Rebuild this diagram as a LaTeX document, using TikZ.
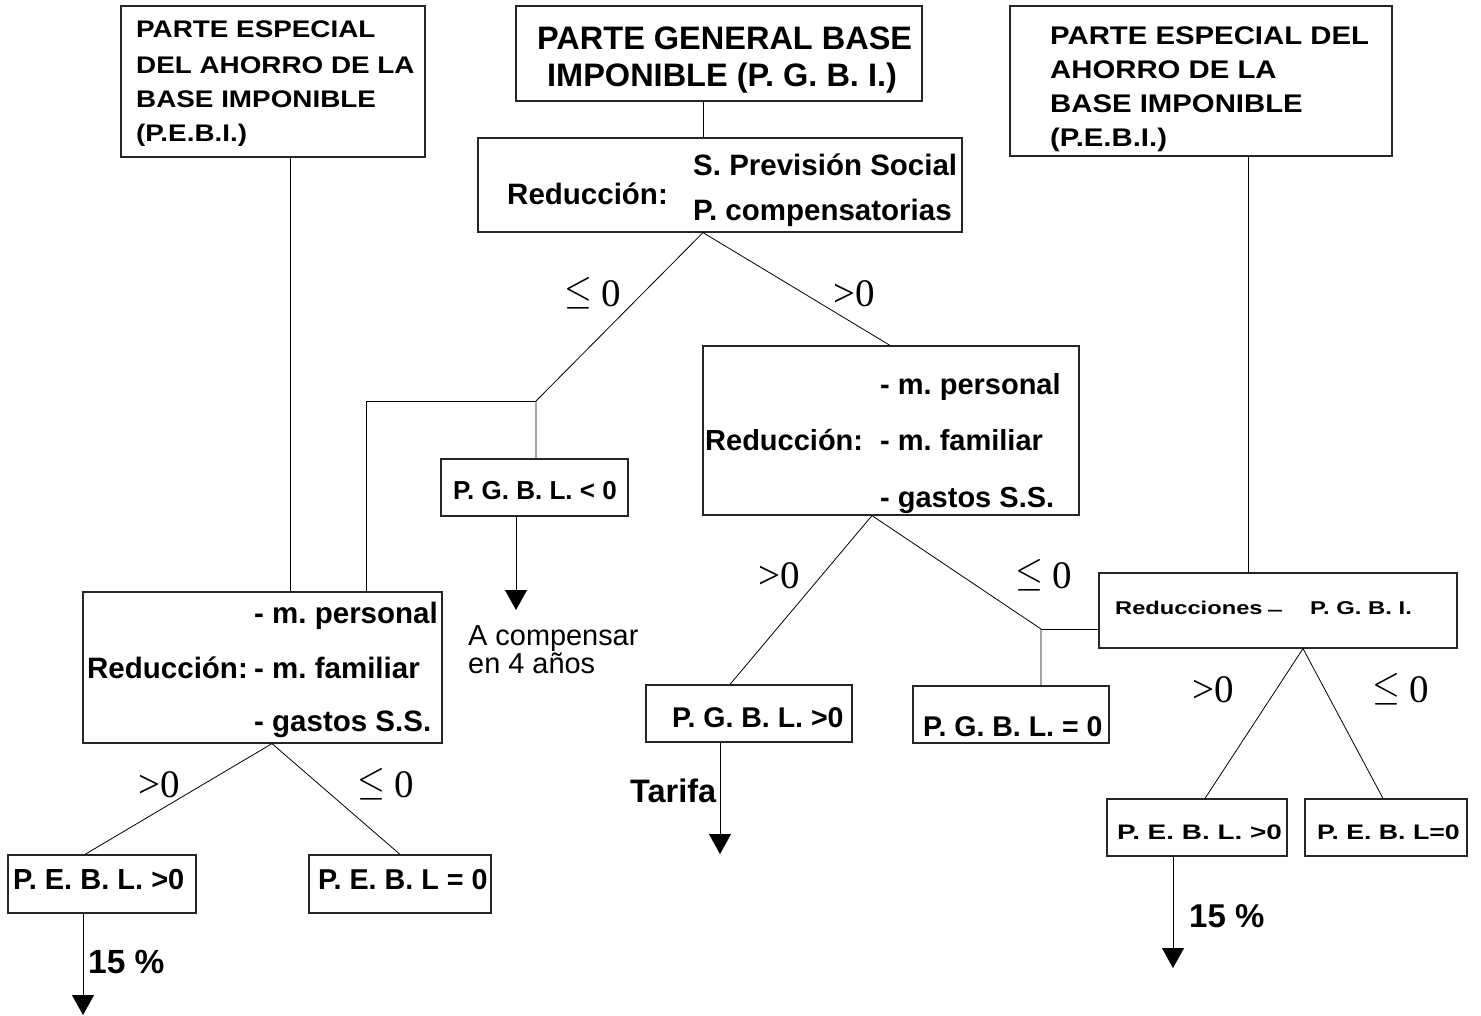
\documentclass[tikz,border=0pt]{standalone}
\usepackage{fontspec}
\usepackage{graphicx}
\setmainfont{Liberation Sans}
\newfontfamily\tmsfont{Liberation Serif}
\usetikzlibrary{arrows.meta}
\newcommand\myfs[1]{\fontsize{#1}{#1}\selectfont}
\newcommand\myle{\raisebox{3pt}{\scalebox{3.6}[4.1]{\fontsize{10}{12}\selectfont$\leq$}}}
\frenchspacing
\tikzset{
  box/.style={draw=black!85, line width=1.2pt, rectangle, inner sep=0pt, fill=white},
  conn/.style={draw=black, line width=0.8pt},
  arr/.style={conn, -{Triangle[width=22pt,length=20pt]}},
  txt/.style={inner sep=0pt, anchor=base west, font=\bfseries},
  reg/.style={inner sep=0pt, anchor=base west},
  rel/.style={inner sep=0pt, anchor=base west, font=\tmsfont\myfs{39}},
}
\begin{document}
\begin{tikzpicture}[x=1pt,y=-1pt]
\useasboundingbox (0,0) rectangle (1481,1016);

% ---------- boxes ----------
\node[box, minimum width=304pt, minimum height=151pt] (B1) at (273,81.5) {};
\node[box, minimum width=406pt, minimum height=95pt] (B2) at (719,53.5) {};
\node[box, minimum width=484pt, minimum height=94pt] (B3) at (720,185) {};
\node[box, minimum width=382pt, minimum height=150pt] (B4) at (1201,81) {};
\node[box, minimum width=359pt, minimum height=151pt] (B5) at (262.5,667.5) {};
\node[box, minimum width=187pt, minimum height=57pt] (B6) at (534.5,487.5) {};
\node[box, minimum width=376pt, minimum height=169pt] (B7) at (891,430.5) {};
\node[box, minimum width=206pt, minimum height=57pt] (B8) at (749,713.5) {};
\node[box, minimum width=196pt, minimum height=57pt] (B9) at (1011,714.5) {};
\node[box, minimum width=358pt, minimum height=75pt] (B10) at (1278,610.5) {};
\node[box, minimum width=180pt, minimum height=57pt] (B11) at (1197,827.5) {};
\node[box, minimum width=162pt, minimum height=57pt] (B12) at (1386,827.5) {};
\node[box, minimum width=188pt, minimum height=58pt] (B13) at (102,884) {};
\node[box, minimum width=182pt, minimum height=58pt] (B14) at (400,884) {};

% ---------- helper coordinates ----------
\coordinate (v1) at (290,0);
\coordinate (v2) at (703,0);
\coordinate (v3) at (1248,0);
\coordinate (v4) at (890,0);
\coordinate (v5) at (872,0);
\coordinate (v6) at (730,0);
\coordinate (v7) at (1303,0);
\coordinate (v8) at (1205,0);
\coordinate (v9) at (1383,0);
\coordinate (v10) at (272,0);
\coordinate (v11) at (85,0);
\coordinate (v12) at (400,0);
\coordinate (e1) at (536,401);
\coordinate (e1b) at (366,401);
\coordinate (e2) at (1041,629);
\coordinate (t1) at (516,610);
\coordinate (t2) at (720,854);
\coordinate (t3) at (83,1015);
\coordinate (t4) at (1173,968);

% ---------- connectors ----------
\draw[conn] (B1.south -| v1) -- (B5.north -| v1);
\draw[conn] (B2.south -| v2) -- (B3.north -| v2);
\draw[conn] (B4.south -| v3) -- (B10.north -| v3);
\draw[conn] (B3.south -| v2) -- (e1) -- (B6.north -| e1);
\draw[conn] (e1) -- (e1b) -- (B5.north -| e1b);
\draw[conn] (B3.south -| v2) -- (B7.north -| v4);
\draw[conn] (B7.south -| v5) -- (B8.north -| v6);
\draw[conn] (B7.south -| v5) -- (e2) -- (B9.north -| e2);
\draw[conn] (e2) -- (B10.west |- e2);
\draw[conn] (B10.south -| v7) -- (B11.north -| v8);
\draw[conn] (B10.south -| v7) -- (B12.north -| v9);
\draw[conn] (B5.south -| v10) -- (B13.north -| v11);
\draw[conn] (B5.south -| v10) -- (B14.north -| v12);
\draw[arr] (B6.south -| t1) -- (t1);
\draw[arr] (B8.south -| t2) -- (t2);
\draw[arr] (B13.south -| t3) -- (t3);
\draw[arr] (B11.south -| t4) -- (t4);

% ---------- texts ----------
% top-left title
\node[txt] (l1a) at (136,38) {\myfs{24}\scalebox{1.16}[1]{PARTE ESPECIAL}};
\node[txt] (l1b) at (136,74) {\myfs{24}\scalebox{1.16}[1]{DEL AHORRO DE LA}};
\node[txt] (l1c) at (136,108) {\myfs{24}\scalebox{1.16}[1]{BASE IMPONIBLE}};
\node[txt] (l1d) at (136,142) {\myfs{24}\scalebox{1.16}[1]{(P.E.B.I.)}};
% top-right title
\node[txt] (l4a) at (1050,45) {\myfs{25.5}\scalebox{1.15}[1]{PARTE ESPECIAL DEL}};
\node[txt] (l4b) at (1050,79) {\myfs{25.5}\scalebox{1.15}[1]{AHORRO DE LA}};
\node[txt] (l4c) at (1050,113) {\myfs{25.5}\scalebox{1.15}[1]{BASE IMPONIBLE}};
\node[txt] (l4d) at (1050,147) {\myfs{25.5}\scalebox{1.15}[1]{(P.E.B.I.)}};
% center title
\node[txt] (l2a) at (537,50) {\myfs{32.5}PARTE GENERAL BASE};
\node[txt] (l2b) at (547,87) {\myfs{32.5}IMPONIBLE (P. G. B. I.)};
% reduction 1
\node[txt] (l3a) at (507,205) {\myfs{29.5}Reducción:};
\node[txt] (l3b) at (693,176) {\myfs{29.5}S. Previsión Social};
\node[txt] (l3c) at (693,221) {\myfs{29.5}P. compensatorias};
% left reduction box
\node[txt] (l5a) at (254,623) {\myfs{29.5}- m. personal};
\node[txt] (l5b) at (87,678) {\myfs{29.5}Reducción:};
\node[txt] (l5c) at (254,678) {\myfs{29.5}- m. familiar};
\node[txt] (l5d) at (254,731) {\myfs{29.5}- gastos S.S.};
% middle reduction box
\node[txt] (l7a) at (880,395) {\myfs{29}- m. personal};
\node[txt] (l7b) at (705,450) {\myfs{29}Reducción:};
\node[txt] (l7c) at (880,450) {\myfs{29}- m. familiar};
\node[txt] (l7d) at (880,507) {\myfs{29}- gastos S.S.};
% small boxes
\node[txt] (l6) at (453,499) {\myfs{26}P. G. B. L. < 0};
\node[txt] (l8) at (672,727) {\myfs{28.5}P. G. B. L. >0};
\node[txt] (l9) at (923,736) {\myfs{28.5}P. G. B. L. = 0};
\node[txt] (l10a) at (1115,614) {\myfs{18.5}\scalebox{1.28}[1]{Reducciones}};
\node[reg] (l10b) at (1268,617) {\myfs{25}–};
\node[txt] (l10c) at (1310,614) {\myfs{18.5}\scalebox{1.29}[1]{P. G. B. I.}};
\node[txt] (l11) at (1117,839) {\myfs{21}\scalebox{1.33}[1]{P. E. B. L. >0}};
\node[txt] (l12) at (1317,839) {\myfs{21}\scalebox{1.27}[1]{P. E. B. L=0}};
\node[txt] (l13) at (13,889) {\myfs{29}P. E. B. L. >0};
\node[txt] (l14) at (318,889) {\myfs{28.7}P. E. B. L = 0};
% free texts
\node[txt] (tar) at (630,802) {\myfs{32.5}Tarifa};
\node[txt] (p15a) at (88,973) {\myfs{33.5}15 \%};
\node[txt] (p15b) at (1189,927) {\myfs{33}15 \%};
\node[reg] (comp1) at (468,645) {\myfs{28.9}A compensar};
\node[reg] (comp2) at (468,673) {\myfs{28.9}en 4 años};
% relation labels
\node[rel] (r1) at (564,307) {\myle\hspace{9pt}0};
\node[rel] (r2) at (833,307) {>0};
\node[rel] (r3) at (758,588) {>0};
\node[rel] (r4) at (1015,588) {\myle\hspace{9pt}0};
\node[rel] (r5) at (138,797) {>0};
\node[rel] (r6) at (357,797) {\myle\hspace{9pt}0};
\node[rel] (r7) at (1192,702) {>0};
\node[rel] (r8) at (1372,702) {\myle\hspace{9pt}0};
\end{tikzpicture}
\end{document}
